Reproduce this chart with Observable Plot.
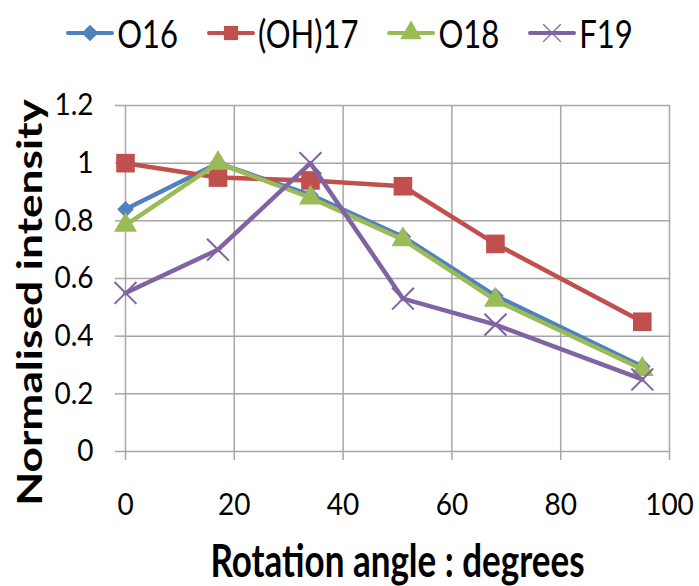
<!DOCTYPE html>
<html><head><meta charset="utf-8">
<script src="https://cdn.jsdelivr.net/npm/d3@7"></script>
<script src="https://cdn.jsdelivr.net/npm/@observablehq/plot@0.6"></script>
<style>
body{margin:0;background:#fff;}
#legend{height:65px;display:flex;justify-content:center;align-items:center;gap:29px;font-family:Lato,"Open Sans",sans-serif;font-size:31px;color:#000;}
.item{display:flex;align-items:center;}
.item svg{margin-right:3px;}
.item span{display:inline-block;transform:scaleY(1.25);}
</style></head><body>
<div id="legend"></div><div id="chart"></div>
<script>
const angles = [0, 17, 34, 51, 68, 95];
const seriesNames = ["O16", "(OH)17", "O18", "F19"];
const o16  = [0.84, 1.00, 0.89, 0.745, 0.54, 0.295];
const oh17 = [1.00, 0.95, 0.94, 0.92, 0.72, 0.45];
const o18  = [0.785, 1.00, 0.88, 0.735, 0.525, 0.285];
const f19  = [0.55, 0.70, 1.00, 0.53, 0.44, 0.25];
const seriesValues = [o16, oh17, o18, f19];
const colors = ["#4F81BD", "#C0504D", "#9BBB59", "#8064A2"];
const symbols = ["diamond2", "square", "triangle", "times"];
const symbolR = [7.5, 10.5, 8.5, 10];
const xTicks = [0, 20, 40, 60, 80, 100];
const yTicks = [0, 0.2, 0.4, 0.6, 0.8, 1, 1.2];
const yTickLabels = ["0", "0.2", "0.4", "0.6", "0.8", "1", "1.2"];
const xTitle = "Rotation angle : degrees";
const yTitle = "Normalised intensity";

const font = 'Lato,"Open Sans",sans-serif';

const rows = [];
seriesNames.forEach((s, si) => angles.forEach((a, i) => rows.push({series: s, angle: a, value: seriesValues[si][i]})));

// legend
const d3sym = {diamond2: d3.symbolDiamond2, square: d3.symbolSquare, triangle: d3.symbolTriangle, times: d3.symbolTimes};
const legendR = [7.5, 8, 8, 8];
const legend = d3.select("#legend");
seriesNames.forEach((s, si) => {
  const item = legend.append("div").attr("class", "item");
  const svg = item.append("svg").attr("width", 48).attr("height", 30);
  svg.append("line").attr("x1", 2).attr("x2", 46).attr("y1", 15).attr("y2", 15)
    .attr("stroke", colors[si]).attr("stroke-width", 4).attr("stroke-linecap", "round");
  const isStroke = symbols[si] === "times";
  svg.append("path").attr("transform", "translate(24,15)")
    .attr("d", d3.symbol(d3sym[symbols[si]], Math.PI * legendR[si] * legendR[si])())
    .attr("fill", isStroke ? "none" : colors[si]).attr("stroke", colors[si]).attr("stroke-width", isStroke ? 1.2 : 0);
  item.append("span").text(s);
});

const seriesMarks = seriesNames.flatMap((s, si) => {
  const data = rows.filter(r => r.series === s);
  const isStroke = symbols[si] === "times";
  return [
    Plot.line(data, {x: "angle", y: "value", stroke: colors[si], strokeWidth: 4.5, strokeLinejoin: "round"}),
    Plot.dot(data, {x: "angle", y: "value", symbol: () => symbols[si], r: symbolR[si],
      fill: isStroke ? "none" : colors[si], stroke: colors[si], strokeWidth: isStroke ? 2 : 0})
  ];
});

const chart = Plot.plot({
  width: 699, height: 521,
  marginLeft: 125, marginRight: 30, marginTop: 40, marginBottom: 135,
  x: {domain: [0, 100]},
  y: {domain: [0, 1.2]},
  symbol: {type: "identity"},
  style: {fontFamily: font, background: "white", overflow: "visible"},
  marks: [
    Plot.gridX(xTicks, {stroke: "#a6a6a6", strokeOpacity: 1, strokeWidth: 1.5}),
    Plot.gridY(yTicks, {stroke: "#a6a6a6", strokeOpacity: 1, strokeWidth: 1.5}),
    Plot.axisX(xTicks, {tickSize: 9, tickPadding: 33, stroke: "#a6a6a6", strokeWidth: 1.5, fontSize: 28, fontFamily: font, label: null, tickFormat: d => String(d)}),
    Plot.axisY(yTicks, {tickSize: 10, tickPadding: 22, stroke: "#a6a6a6", strokeWidth: 1.5, fontSize: 28, fontFamily: font, label: null, tickFormat: (d, i) => yTickLabels[i]}),
    ...seriesMarks,
    Plot.text([xTitle], {text: d => d, frameAnchor: "bottom", textAnchor: "middle", lineAnchor: "middle", dy: 111, fontSize: 35, fontWeight: "bold", fontFamily: font}),
    Plot.text([yTitle], {text: d => d, frameAnchor: "left", textAnchor: "middle", lineAnchor: "middle", rotate: -90, dx: -94, dy: 24, fontSize: 34, fontWeight: "bold", fontFamily: font})
  ]
});
// stretch text like the reference's tall glyphs
const sel = d3.select(chart);
sel.selectAll('g[aria-label="x-axis tick label"] text, g[aria-label="y-axis tick label"] text')
  .attr("transform", function() { return (this.getAttribute("transform") || "") + " scale(1,1.1)"; });
sel.selectAll('g[aria-label="text"] text').each(function() {
  const t = this.textContent;
  const tr = this.getAttribute("transform") || "";
  if (t === xTitle) this.setAttribute("transform", tr + " scale(1,1.3)");
  if (t === yTitle) this.setAttribute("transform", tr + " scale(1.3,1)");
});
document.getElementById("chart").append(chart);
</script>
</body></html>
